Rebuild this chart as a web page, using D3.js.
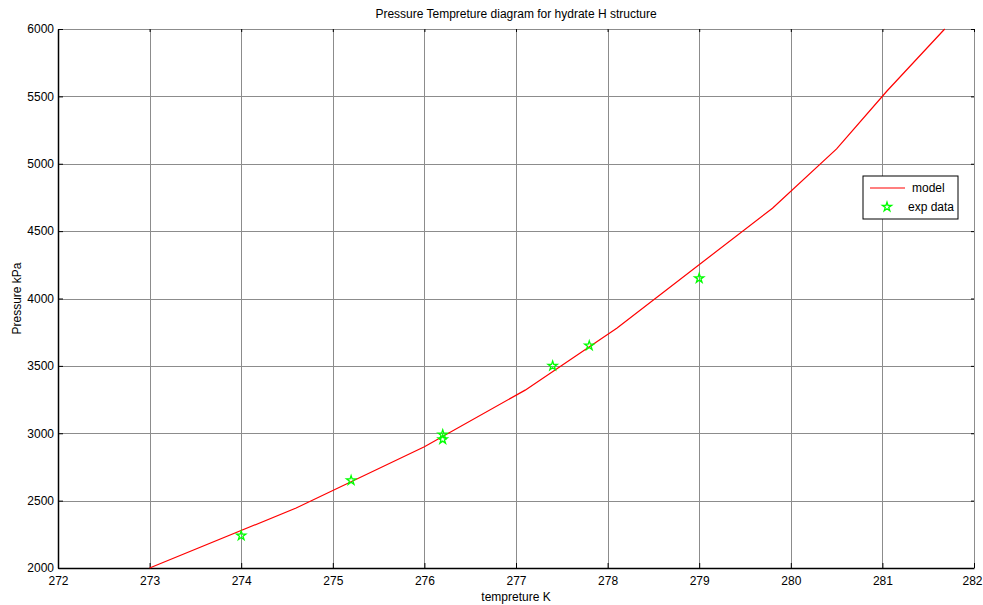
<!DOCTYPE html>
<html lang="en">
<head>
<meta charset="UTF-8">
<title>Pressure Tempreture diagram</title>
<script src="https://cdn.jsdelivr.net/npm/d3@7"></script>
<style>
  body { margin: 0; background: #fff; }
  text { font-family: "Liberation Sans", Arial, sans-serif; fill: #000; }
  .grid line { stroke: #8c8c8c; stroke-width: 1px; }
</style>
</head>
<body>
<script>
// model curve (temperature K, pressure kPa)
var modelT = [273, 274.6, 276.0, 277.1, 278.1, 279.8, 280.5, 281.05, 281.68];
var modelP = [2000, 2445, 2900, 3320, 3780, 4670, 5110, 5540, 6000];

// experimental points
var expT = [274, 275.2, 276.2, 276.2, 277.4, 277.8, 279];
var expP = [2240, 2650, 2990, 2955, 3500, 3650, 4150];

var xTicks = [272, 273, 274, 275, 276, 277, 278, 279, 280, 281, 282];
var yTicks = [2000, 2500, 3000, 3500, 4000, 4500, 5000, 5500, 6000];

var W = 983, H = 605;
var margin = {top: 29, right: 9, bottom: 37, left: 58};
var width = W - margin.left - margin.right,
    height = H - margin.top - margin.bottom;

var x = d3.scaleLinear().domain([272, 282]).range([0, width]);
var y = d3.scaleLinear().domain([2000, 6000]).range([height, 0]);

var svg = d3.select("body").append("svg")
    .attr("width", W).attr("height", H);

var g = svg.append("g")
    .attr("transform", "translate(" + margin.left + "," + margin.top + ")");

// grid
var grid = g.append("g").attr("class", "grid");
grid.selectAll(".gx").data(xTicks).enter().append("line")
    .attr("x1", function(d) { return Math.round(x(d)) + 0.5; })
    .attr("x2", function(d) { return Math.round(x(d)) + 0.5; })
    .attr("y1", 0).attr("y2", height);
grid.selectAll(".gy").data(yTicks).enter().append("line")
    .attr("y1", function(d) { return Math.round(y(d)) + 0.5; })
    .attr("y2", function(d) { return Math.round(y(d)) + 0.5; })
    .attr("x1", 0).attr("x2", width);

// axes
var xAxis = g.append("g")
    .attr("transform", "translate(0," + height + ")")
    .call(d3.axisBottom(x).tickValues(xTicks).tickFormat(d3.format("d"))
      .tickSizeInner(-5).tickSizeOuter(0).tickPadding(8));
var yAxis = g.append("g")
    .call(d3.axisLeft(y).tickValues(yTicks).tickFormat(d3.format("d"))
      .tickSizeInner(-5).tickSizeOuter(0).tickPadding(4));
// small ticks on the top and right edges
g.append("g")
    .call(d3.axisTop(x).tickValues(xTicks).tickSizeInner(-3).tickSizeOuter(0).tickFormat(""))
    .select(".domain").remove();
g.append("g")
    .attr("transform", "translate(" + width + ",0)")
    .call(d3.axisRight(y).tickValues(yTicks).tickSizeInner(-3).tickSizeOuter(0).tickFormat(""))
    .select(".domain").remove();

[xAxis, yAxis].forEach(function(a) {
  a.selectAll("text").style("font-size", "12px").style("font-family", "Liberation Sans, Arial, sans-serif");
  a.select(".domain").attr("stroke", "#000").attr("stroke-width", 1.5);
});
// keep the last x label inside the window
xAxis.selectAll(".tick text").filter(function(d) { return d === 282; }).attr("dx", "-2");

// model line
var line = d3.line()
    .x(function(d, i) { return x(modelT[i]); })
    .y(function(d) { return y(d); });

g.append("path")
    .datum(modelP)
    .attr("fill", "none")
    .attr("stroke", "#ff0000")
    .attr("stroke-width", 1.2)
    .attr("d", line);

// exp data stars
var star = d3.symbol().type(d3.symbolStar).size(26);
g.selectAll(".exp").data(expP).enter().append("path")
    .attr("d", star)
    .attr("transform", function(d, i) { return "translate(" + x(expT[i]) + "," + y(d) + ")"; })
    .attr("fill", "none")
    .attr("stroke", "#00ff00")
    .attr("stroke-width", 1.3);

// legend
var leg = svg.append("g").attr("transform", "translate(863,176)");
leg.append("rect").attr("width", 95).attr("height", 43)
    .attr("fill", "#fff").attr("stroke", "#000").attr("stroke-width", 1);
leg.append("line").attr("x1", 7).attr("x2", 42).attr("y1", 12).attr("y2", 12)
    .attr("stroke", "#ff0000").attr("stroke-width", 1.2);
leg.append("text").attr("x", 49).attr("y", 16).style("font-size", "12px").text("model");
leg.append("path").attr("d", star).attr("transform", "translate(24,31)")
    .attr("fill", "none").attr("stroke", "#00ff00").attr("stroke-width", 1.3);
leg.append("text").attr("x", 45).attr("y", 35).style("font-size", "12px").text("exp data");

// title and axis labels
svg.append("text")
    .attr("x", margin.left + width / 2).attr("y", 18)
    .attr("text-anchor", "middle").style("font-size", "12px")
    .text("Pressure Tempreture diagram for hydrate H structure");
svg.append("text")
    .attr("x", margin.left + width / 2).attr("y", 601)
    .attr("text-anchor", "middle").style("font-size", "12px")
    .text("tempreture K");
svg.append("text")
    .attr("transform", "translate(21," + (margin.top + height / 2) + ") rotate(-90)")
    .attr("text-anchor", "middle").style("font-size", "12px")
    .text("Pressure kPa");
</script>
</body>
</html>
